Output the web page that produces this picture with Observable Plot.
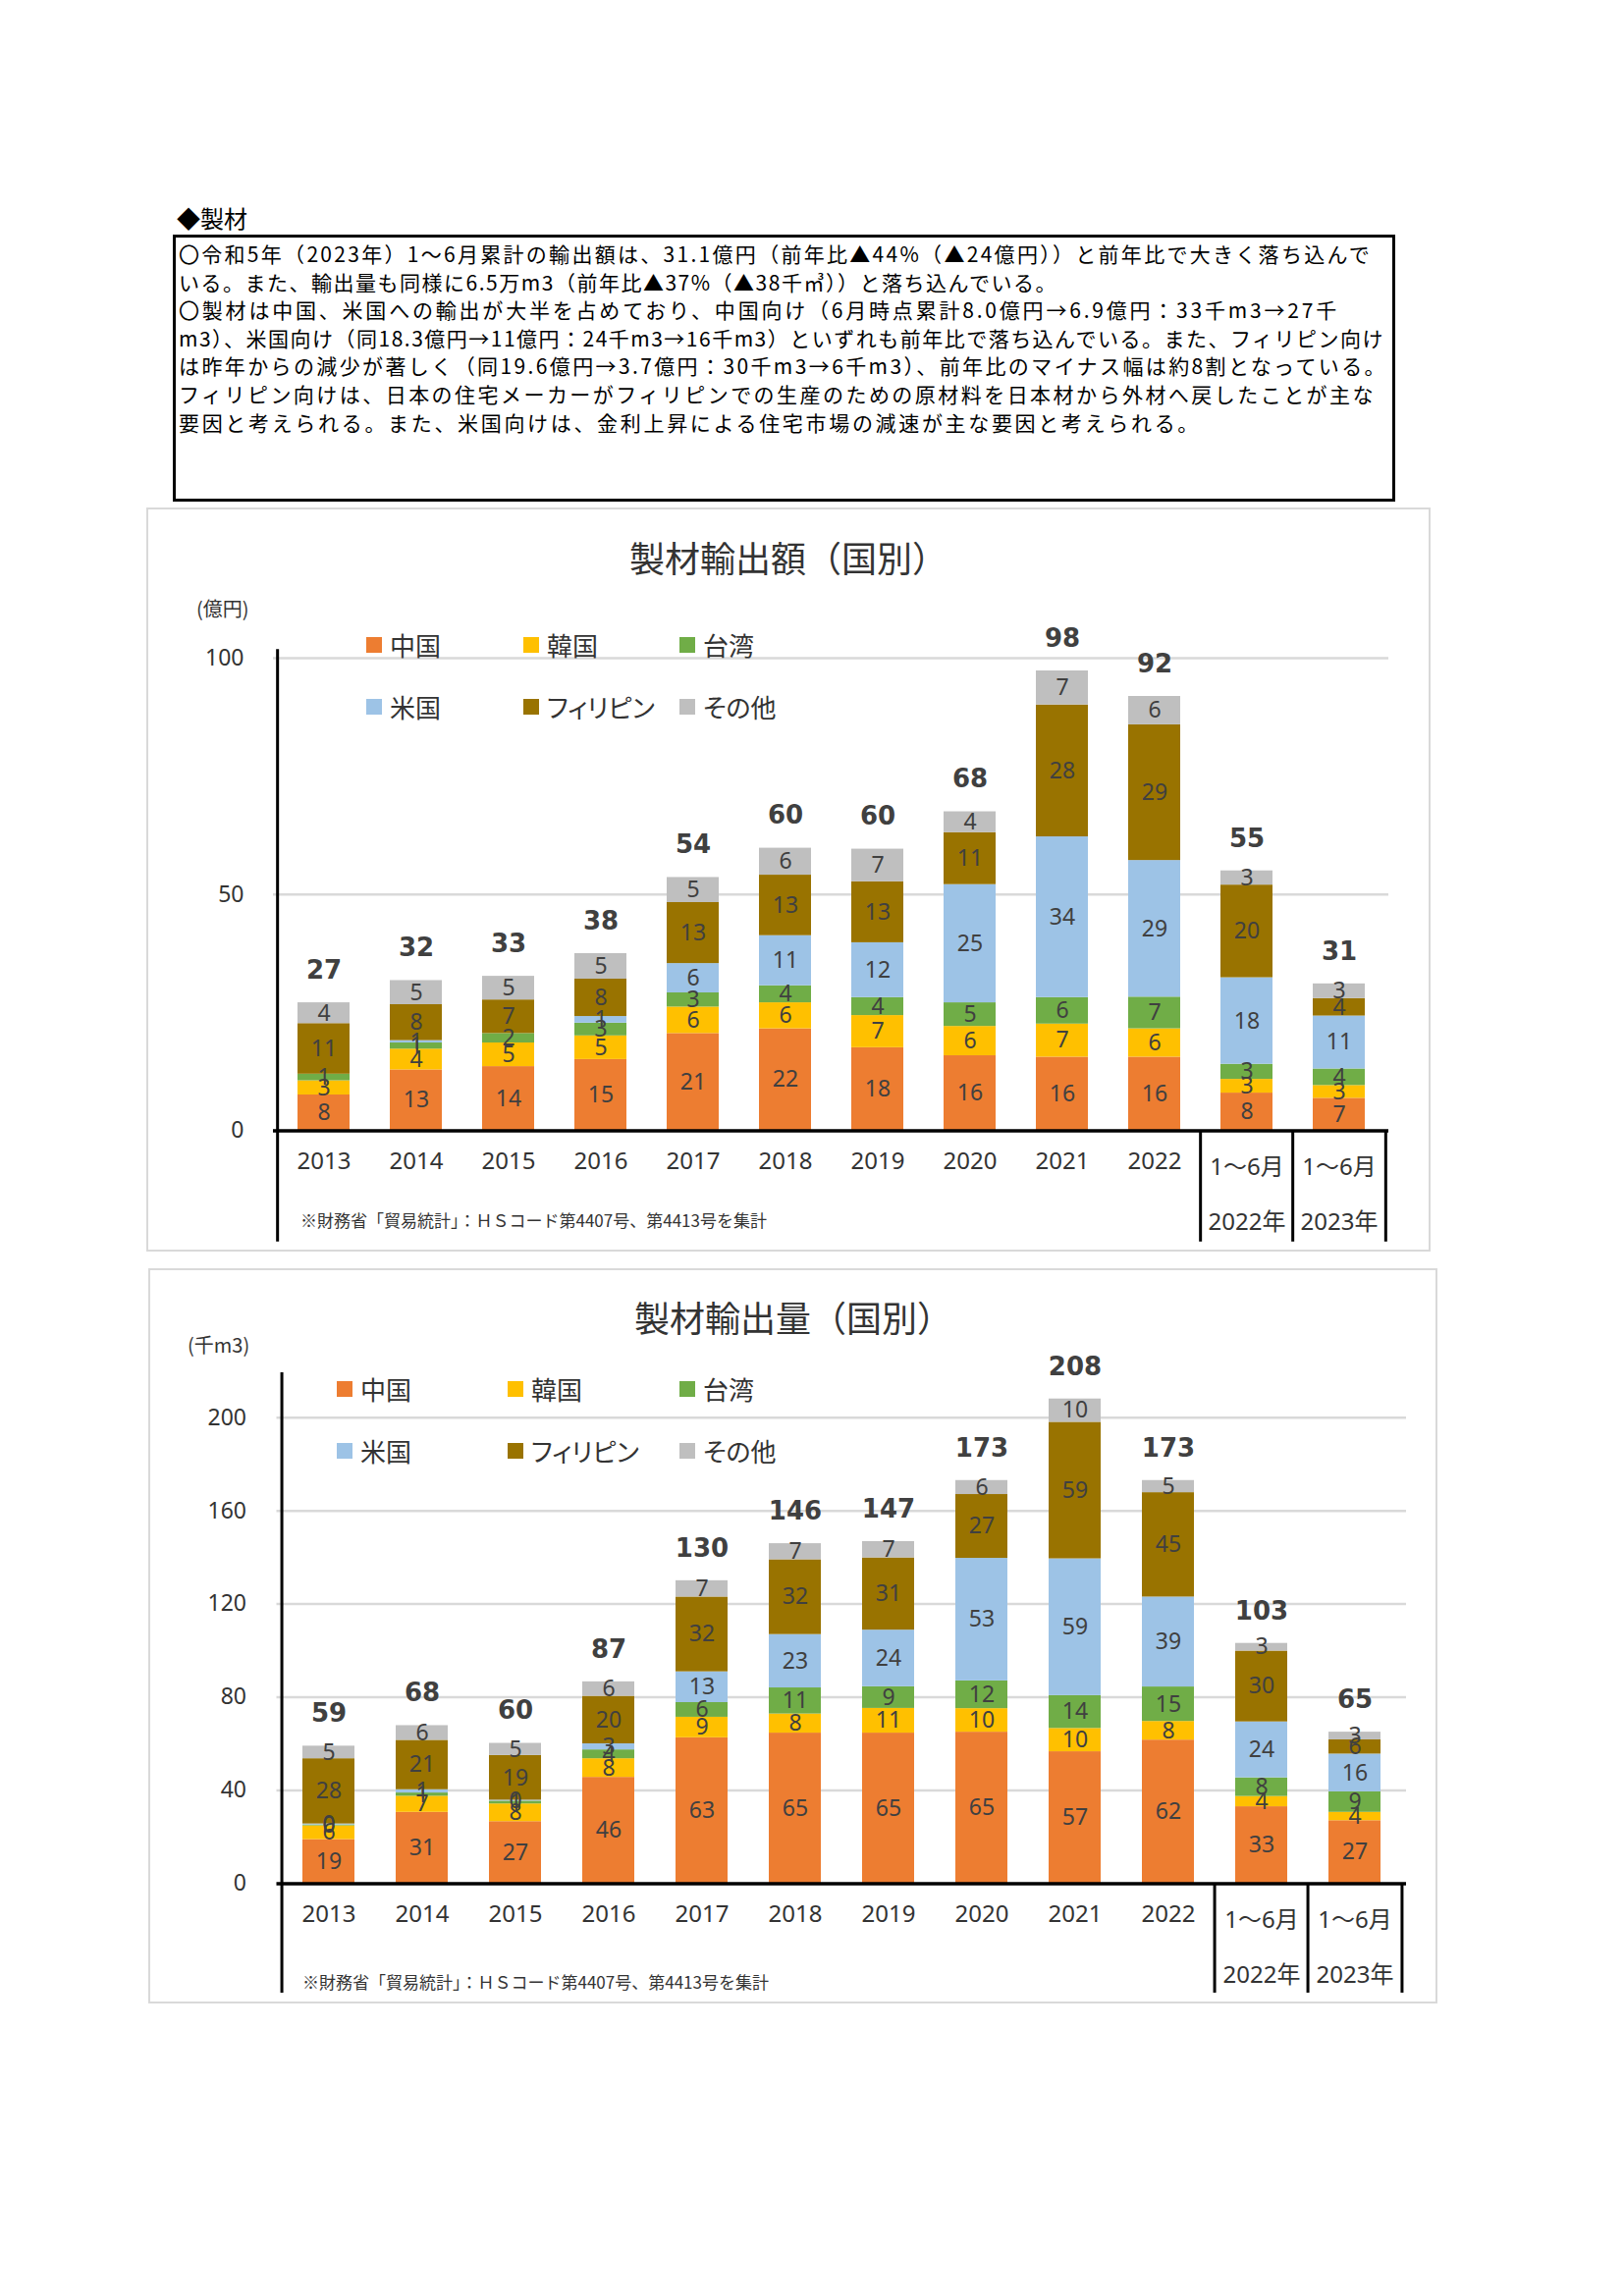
<!DOCTYPE html>
<html><head><meta charset="utf-8">
<script src="https://cdn.jsdelivr.net/npm/d3@7"></script>
<script src="https://cdn.jsdelivr.net/npm/@observablehq/plot@0.6"></script>
<style>
html,body{margin:0;padding:0;background:#fff;}
body{width:1654px;height:2339px;position:relative;overflow:hidden;font-family:"Noto Sans CJK JP","Noto Sans",sans-serif;color:#000;}
.abs{position:absolute;white-space:nowrap;line-height:1;}
.panel{position:absolute;border:2.5px solid #d9d9d9;box-sizing:border-box;}
.mid{transform:translateY(-50%);}
.ctr{transform:translate(-50%,-50%);}
.leg{position:absolute;display:flex;align-items:center;white-space:nowrap;font-size:26px;color:#333;line-height:1;transform:translateY(-50%);font-feature-settings:"palt";}
.leg i{display:inline-block;width:16px;height:16px;margin-right:8px;}
</style></head><body>
<script>
// ---------- data ----------
const categories = ["2013","2014","2015","2016","2017","2018","2019","2020","2021","2022","1～6月 2022年","1～6月 2023年"];
const catLine1 = ["2013","2014","2015","2016","2017","2018","2019","2020","2021","2022","1～6月","1～6月"];
const catLine2 = ["","","","","","","","","","","2022年","2023年"];
const seriesNames = ["中国","韓国","台湾","米国","フィリピン","その他"];
const seriesColors = ["#ED7D31","#FFC000","#70AD47","#9DC3E6","#997300","#BFBFBF"];

// 製材輸出額（億円）
const amtChina  = [7.6,12.9,13.6,15.1,20.6,21.6,17.6,15.9,15.6,15.6,8.0,6.9];
const amtKorea  = [3.0,4.4,5.0,5.0,5.6,5.5,6.8,6.2,7.0,6.0,2.9,2.7];
const amtTaiwan = [1.4,1.3,2.0,2.7,3.0,3.6,3.8,5.0,5.6,6.7,3.2,3.5];
const amtUSA    = [0,0.5,0,1.4,6.2,10.6,11.6,25.0,34.0,28.9,18.3,11.2];
const amtPhil   = [10.7,7.6,7.1,7.9,12.9,12.8,12.9,11.0,27.9,28.7,19.6,3.7];
const amtOther  = [4.4,5.1,5.0,5.4,5.3,5.7,6.9,4.4,7.2,6.0,3.0,3.1];
const amtTotals = [27,32,33,38,54,60,60,68,98,92,55,31];

// 製材輸出量（千m3）
const volChina  = [18.9,30.6,26.6,45.6,62.6,64.6,64.6,65.0,56.6,61.6,33.0,27.0];
const volKorea  = [5.9,6.9,7.6,8.0,8.8,8.2,10.6,10.1,10.0,8.0,4.4,3.6];
const volTaiwan = [0.4,1.4,1.2,3.8,6.3,11.2,9.3,11.9,14.1,14.8,8.0,8.8];
const volUSA    = [0.4,1.4,0.4,2.6,13.2,22.9,24.3,52.6,58.7,38.6,24.0,16.2];
const volPhil   = [28.0,21.2,19.2,20.4,32.1,32.1,31.0,27.4,58.6,44.8,30.4,6.1];
const volOther  = [5.4,6.3,5.2,6.2,7.0,6.9,7.0,6.0,10.0,5.2,3.3,3.3];
const volTotals = [59,68,60,87,130,146,147,173,208,173,103,65];

const amtTicks = [0,50,100];
const volTicks = [0,40,80,120,160,200];

const headingText = "◆製材";
const boxLines = [
  "〇令和5年（2023年）1～6月累計の輸出額は、31.1億円（前年比▲44%（▲24億円））と前年比で大きく落ち込んで",
  "いる。また、輸出量も同様に6.5万m3（前年比▲37%（▲38千㎥））と落ち込んでいる。",
  "〇製材は中国、米国への輸出が大半を占めており、中国向け（6月時点累計8.0億円→6.9億円：33千m3→27千",
  "m3）、米国向け（同18.3億円→11億円：24千m3→16千m3）といずれも前年比で落ち込んでいる。また、フィリピン向け",
  "は昨年からの減少が著しく（同19.6億円→3.7億円：30千m3→6千m3）、前年比のマイナス幅は約8割となっている。",
  "フィリピン向けは、日本の住宅メーカーがフィリピンでの生産のための原材料を日本材から外材へ戻したことが主な",
  "要因と考えられる。また、米国向けは、金利上昇による住宅市場の減速が主な要因と考えられる。"
];
const footnoteText = "※財務省「貿易統計」：ＨＳコード第4407号、第4413号を集計";

// ---------- layout helpers ----------
function el(tag, cls, style, text) {
  const e = document.createElement(tag);
  if (cls) e.className = cls;
  Object.assign(e.style, style || {});
  if (text != null) e.textContent = text;
  document.body.appendChild(e);
  return e;
}

el("div", "abs mid", {left:"180px", top:"222px", fontSize:"24px"}, headingText);
el("div", "", {position:"absolute", left:"176px", top:"239px", width:"1245px", height:"272px", border:"3px solid #000", boxSizing:"border-box"});
const lineTargets = [1215, 895, 1182, 1228, 1231, 1219, 1041];
boxLines.forEach((t, k) => {
  const s = el("span", "abs mid", {left:"182px", top:(258 + k*28.6)+"px", fontSize:"21px"}, t);
  const w = s.getBoundingClientRect().width;
  const n = [...t].length;
  s.style.letterSpacing = ((lineTargets[k] - w) / n) + "px";
});

function drawChart(cfg) {
  const values = cfg.values;
  const rows = [];
  categories.forEach((c, i) => seriesNames.forEach((s, j) => rows.push({cat: c, series: s, value: values[j][i]})));
  const stackTop = categories.map((c, i) => d3.sum(values, v => v[i]));
  const idx = d3.range(categories.length);
  const W = 1654;
  const step = (W - cfg.marginLeft - cfg.marginRight) / categories.length;
  const labStyle = {fill: "#333", fontSize: 24, fontFamily: "Noto Sans, Noto Sans CJK JP, sans-serif"};
  const chart = Plot.plot({
    width: W, height: cfg.height,
    marginTop: cfg.marginTop, marginBottom: cfg.marginBottom,
    marginLeft: cfg.marginLeft, marginRight: cfg.marginRight,
    style: {background: "transparent", overflow: "visible", fontFamily: "Noto Sans, sans-serif", fontSize: "23px", color: "#333", maxWidth: "none"},
    x: {domain: categories, axis: null, paddingInner: 0.44, paddingOuter: 0.22},
    y: {domain: [0, cfg.ticks[cfg.ticks.length - 1]], ticks: cfg.ticks, tickSize: 0, tickPadding: cfg.tickPadding, label: null},
    color: {domain: seriesNames, range: seriesColors},
    marks: [
      Plot.ruleY(cfg.ticks.filter(t => t > 0), {stroke: "#d9d9d9", strokeWidth: 2.5}),
      Plot.barY(rows, {x: "cat", y: "value", fill: "series"}),
      Plot.text(rows.filter(d => d.value > 0), Plot.stackY({x: "cat", y: "value", z: "series",
        text: d => String(Math.round(d.value)), fill: "#404040", fontSize: 23, fontFamily: "Noto Sans, sans-serif"})),
      Plot.text(idx, {x: i => categories[i], y: i => stackTop[i], text: i => String(cfg.totals[i]),
        dy: -33, fontSize: 26, fontWeight: "bold", fontFamily: "DejaVu Sans, sans-serif", fill: "#404040"}),
      Plot.ruleY([0], {stroke: "#000", strokeWidth: 3.5}),
      Plot.ruleX([categories[0]], {y1: () => cfg.axisBottom, y2: () => cfg.axisTop, dx: -step / 2, stroke: "#000", strokeWidth: 3}),
      Plot.ruleX([categories[10], categories[11]], {y1: () => cfg.axisBottom, y2: () => 0, dx: -step / 2, stroke: "#000", strokeWidth: 3}),
      Plot.ruleX([categories[11]], {y1: () => cfg.axisBottom, y2: () => 0, dx: step / 2, stroke: "#000", strokeWidth: 3}),
      Plot.text(idx.filter(i => !catLine2[i]), {x: i => categories[i], y: () => 0, text: i => catLine1[i], dy: cfg.yearDy, ...labStyle}),
      Plot.text(idx.filter(i => catLine2[i]), {x: i => categories[i], y: () => 0, text: i => catLine1[i], dy: cfg.lab1Dy, ...labStyle}),
      Plot.text(idx.filter(i => catLine2[i]), {x: i => categories[i], y: () => 0, text: i => catLine2[i], dy: cfg.lab2Dy, ...labStyle})
    ]
  });
  const holder = el("div", "", {position: "absolute", left: "0px", top: cfg.top + "px", width: W + "px"});
  holder.appendChild(chart);

  // panel, title, unit, legend, footnote
  const p = cfg.panel;
  el("div", "panel", {left: p[0] + "px", top: p[1] + "px", width: (p[2] - p[0]) + "px", height: (p[3] - p[1]) + "px"});
  el("div", "abs ctr", {left: cfg.titlePos[0] + "px", top: cfg.titlePos[1] + "px", fontSize: "36px", color: "#333"}, cfg.title);
  el("div", "abs mid", {left: cfg.unitPos[0] + "px", top: cfg.unitPos[1] + "px", fontSize: "20px", color: "#333"}, cfg.unit);
  el("div", "abs mid", {left: cfg.notePos[0] + "px", top: cfg.notePos[1] + "px", fontSize: "17px", color: "#333"}, footnoteText);
  seriesNames.forEach((s, j) => {
    const d = el("div", "leg", {left: cfg.legX[j % 3] + "px", top: cfg.legY[Math.floor(j / 3)] + "px"});
    const sw = document.createElement("i");
    sw.style.background = seriesColors[j];
    d.appendChild(sw);
    d.appendChild(document.createTextNode(s));
  });
}

drawChart({
  values: [amtChina, amtKorea, amtTaiwan, amtUSA, amtPhil, amtOther],
  totals: amtTotals, ticks: amtTicks, tickPadding: 30,
  top: 600, height: 680, marginTop: 70, marginBottom: 128.4, marginLeft: 278, marginRight: 240,
  axisTop: 101.8, axisBottom: -23.5, yearDy: 31.5, lab1Dy: 37.5, lab2Dy: 93,
  panel: [149, 517, 1457, 1275], title: "製材輸出額（国別）", titlePos: [803, 567],
  unit: "(億円)", unitPos: [200, 620], notePos: [306, 1242],
  legX: [373, 533, 692], legY: [657, 720]
});

drawChart({
  values: [volChina, volKorea, volTaiwan, volUSA, volPhil, volOther],
  totals: volTotals, ticks: volTicks, tickPadding: 31,
  top: 1360, height: 690, marginTop: 83.7, marginBottom: 131.6, marginLeft: 281.5, marginRight: 222,
  axisTop: 219.3, axisBottom: -47, yearDy: 31.5, lab1Dy: 37.5, lab2Dy: 93.5,
  panel: [151, 1292, 1464, 2041], title: "製材輸出量（国別）", titlePos: [808, 1341],
  unit: "(千m3)", unitPos: [191, 1370], notePos: [308, 2018],
  legX: [343, 517, 692], legY: [1415, 1478]
});
</script>
</body></html>
